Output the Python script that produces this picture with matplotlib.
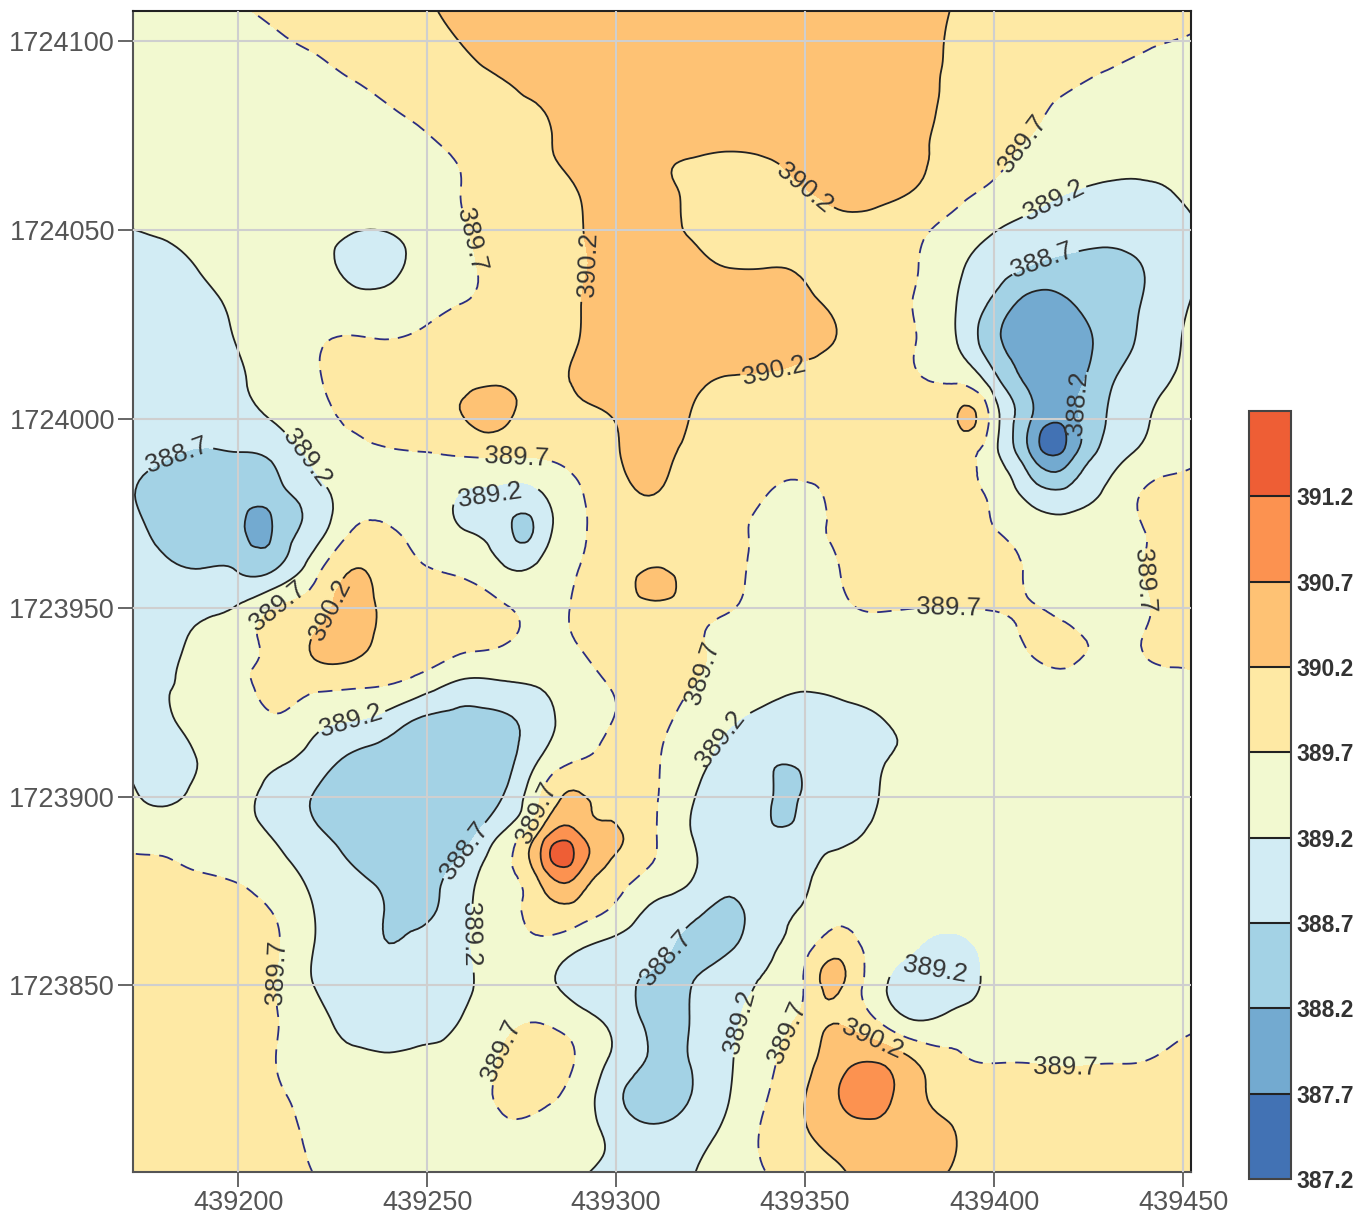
import numpy as np
import matplotlib
matplotlib.use("Agg")
import matplotlib.pyplot as plt
import matplotlib.tri as mtri

plt.rcParams["font.family"] = ["Liberation Sans", "DejaVu Sans"]

# ===============================
# Data
# ===============================
x_nodes = list(range(439170, 439470, 10))
y_nodes = list(range(1724110, 1723790, -10))

# one row per y_nodes entry, one value per x_nodes entry
z_rows = [
    [389.4,389.45,389.55,389.7,389.8,389.9,390.0,390.1,390.18,390.3,390.4,390.45,390.5,390.5,390.5,390.5,390.5,390.5,390.5,390.5,390.45,390.35,390.18,390.1,390.05,390.0,389.95,389.85,389.75,389.7],
    [389.3,389.35,389.4,389.5,389.65,389.75,389.85,389.95,390.1,390.22,390.35,390.4,390.45,390.5,390.5,390.5,390.5,390.5,390.5,390.45,390.4,390.3,390.15,390.05,390.0,389.9,389.85,389.75,389.68,389.6],
    [389.3,389.3,389.35,389.4,389.5,389.6,389.7,389.8,389.95,390.1,390.2,390.3,390.4,390.45,390.5,390.5,390.5,390.5,390.5,390.45,390.4,390.27,390.15,390.0,389.85,389.75,389.65,389.55,389.45,389.4],
    [389.3,389.3,389.3,389.35,389.4,389.5,389.55,389.65,389.78,389.95,390.1,390.18,390.3,390.4,390.5,390.5,390.5,390.5,390.5,390.45,390.4,390.27,390.1,389.9,389.75,389.6,389.5,389.4,389.35,389.3],
    [389.3,389.3,389.28,389.3,389.35,389.4,389.45,389.5,389.62,389.75,389.95,390.15,390.28,390.4,390.3,390.22,390.17,390.22,390.35,390.45,390.4,390.25,390.05,389.8,389.62,389.45,389.35,389.3,389.25,389.2],
    [389.3,389.3,389.28,389.27,389.3,389.32,389.35,389.42,389.55,389.72,389.9,390.05,390.2,390.35,390.3,390.15,390.05,390.1,390.18,390.3,390.28,390.15,389.85,389.6,389.38,389.2,389.13,389.15,389.22,389.3],
    [389.18,389.25,389.27,389.25,389.25,389.27,389.22,389.22,389.4,389.68,389.85,390.0,390.17,390.35,390.3,390.18,390.1,390.05,390.05,390.1,390.05,389.8,389.5,389.22,389.05,388.9,388.85,388.95,389.12,389.25],
    [388.9,389.0,389.22,389.3,389.3,389.28,389.12,389.12,389.35,389.62,389.85,390.0,390.15,390.35,390.38,390.3,390.2,390.2,390.15,390.0,389.9,389.7,389.28,388.95,388.65,388.55,388.55,388.72,389.08,389.3],
    [388.75,388.85,389.05,389.28,389.4,389.45,389.4,389.38,389.55,389.72,389.8,389.95,390.18,390.4,390.45,390.45,390.45,390.4,390.3,390.1,389.9,389.65,389.2,388.55,388.0,388.15,388.45,388.75,389.15,389.4],
    [388.7,388.8,388.95,389.22,389.45,389.65,389.75,389.73,389.82,389.92,390.0,390.1,390.2,390.45,390.5,390.5,390.5,390.5,390.35,390.15,389.95,389.68,389.22,388.35,387.95,387.95,388.4,388.82,389.22,389.5],
    [388.85,388.9,389.0,389.15,389.4,389.65,389.8,389.9,390.0,390.1,390.15,390.1,390.25,390.45,390.45,390.3,390.15,390.1,390.0,389.95,389.85,389.75,389.65,388.9,388.05,387.95,388.6,389.0,389.3,389.5],
    [389.05,389.0,389.0,389.05,389.25,389.55,389.75,389.95,390.05,390.2,390.3,389.95,390.05,390.22,390.4,390.18,390.05,390.0,389.95,389.92,389.9,389.95,390.18,389.45,388.18,387.95,388.72,389.15,389.5,389.65],
    [388.85,388.75,388.6,388.65,388.8,389.3,389.55,389.6,389.65,389.7,389.72,389.72,389.85,390.15,390.35,390.05,389.95,389.9,389.9,389.85,389.85,389.85,389.8,389.35,388.2,388.05,388.95,389.35,389.6,389.7],
    [388.78,388.5,388.4,388.45,388.5,388.95,389.45,389.5,389.5,389.15,389.05,389.15,389.65,390.0,390.2,389.9,389.8,389.7,389.62,389.8,389.85,389.85,389.8,389.6,389.0,388.88,389.3,389.75,389.85,389.9],
    [388.9,388.55,388.35,388.35,388.3,388.95,389.72,389.75,389.55,389.22,388.9,388.9,389.62,389.85,389.95,389.85,389.78,389.6,389.6,389.78,389.9,389.9,389.85,389.72,389.55,389.45,389.5,389.7,389.9,390.0],
    [388.95,388.85,388.72,388.68,388.72,389.5,390.2,389.95,389.72,389.6,389.28,389.35,389.7,389.9,390.25,389.85,389.75,389.55,389.5,389.72,389.85,389.85,389.85,389.85,389.65,389.5,389.5,389.72,389.95,390.0],
    [389.1,389.05,389.1,389.25,389.72,389.95,390.4,390.02,389.95,389.9,389.75,389.6,389.75,389.9,390.05,389.85,389.72,389.5,389.45,389.65,389.72,389.7,389.7,389.72,389.72,389.55,389.45,389.65,389.95,390.0],
    [389.05,389.1,389.3,389.55,389.85,390.25,390.4,389.98,389.9,389.8,389.7,389.55,389.7,389.85,389.9,389.78,389.6,389.45,389.4,389.5,389.55,389.55,389.55,389.55,389.75,389.8,389.62,389.72,389.85,390.0],
    [389.1,389.17,389.32,389.6,389.8,389.85,389.8,389.72,389.45,389.1,389.15,389.25,389.5,389.75,389.85,389.72,389.5,389.35,389.25,389.3,389.4,389.45,389.45,389.45,389.5,389.55,389.5,389.58,389.62,389.75],
    [389.05,389.13,389.3,389.4,389.65,389.35,389.2,388.95,388.6,388.55,388.6,389.0,389.45,389.72,389.78,389.55,389.25,389.05,389.0,389.05,389.18,389.3,389.35,389.35,389.35,389.4,389.45,389.5,389.55,389.6],
    [389.15,389.05,389.22,389.35,389.3,389.0,388.62,388.5,388.45,388.4,388.5,389.22,389.68,389.85,389.75,389.4,389.05,388.82,388.82,388.85,389.15,389.25,389.3,389.3,389.3,389.35,389.4,389.45,389.45,389.5],
    [389.35,389.12,389.3,389.3,389.05,388.68,388.45,388.35,388.3,388.35,388.7,389.7,390.25,390.05,389.75,389.25,388.95,388.8,388.8,388.9,389.22,389.35,389.35,389.35,389.35,389.4,389.45,389.45,389.5,389.5],
    [389.55,389.5,389.45,389.35,389.15,388.8,388.55,388.35,388.3,388.5,389.25,390.35,390.75,390.25,389.75,389.2,388.95,388.82,388.95,389.12,389.3,389.4,389.4,389.4,389.4,389.4,389.4,389.45,389.5,389.5],
    [389.85,389.8,389.7,389.62,389.4,389.05,388.75,388.55,388.55,388.95,389.55,390.45,390.75,390.0,389.6,389.25,388.9,389.0,389.15,389.35,389.45,389.5,389.5,389.5,389.5,389.5,389.5,389.5,389.5,389.5],
    [389.95,389.95,389.95,389.85,389.65,389.2,388.95,388.65,388.6,389.1,389.5,389.95,390.0,389.6,389.1,388.85,388.6,389.0,389.25,389.6,389.55,389.4,389.35,389.45,389.5,389.5,389.5,389.5,389.5,389.5],
    [390.0,390.0,390.0,389.95,389.75,389.2,388.95,388.72,388.95,389.15,389.5,389.55,389.25,389.0,388.8,388.6,388.65,389.1,389.55,389.95,389.45,389.2,389.1,389.35,389.5,389.5,389.5,389.5,389.5,389.5],
    [390.0,390.0,390.05,389.95,389.7,389.2,389.0,388.9,389.0,389.15,389.35,389.35,389.0,388.8,388.62,388.7,389.0,389.25,389.75,390.2,389.3,389.0,389.0,389.35,389.5,389.5,389.55,389.55,389.55,389.55],
    [390.0,390.0,390.05,389.95,389.72,389.4,389.05,388.95,389.05,389.25,389.55,389.7,389.45,389.05,388.6,388.72,389.1,389.45,389.9,390.18,389.7,389.25,389.4,389.45,389.45,389.45,389.5,389.55,389.62,389.7],
    [390.0,390.0,390.05,389.95,389.7,389.4,389.32,389.28,389.32,389.4,389.75,389.9,389.65,389.05,388.65,388.72,389.15,389.6,390.05,390.55,390.65,390.15,389.8,389.68,389.68,389.65,389.68,389.7,389.85,389.95],
    [390.05,390.05,390.1,390.0,389.8,389.5,389.4,389.4,389.4,389.5,389.75,389.75,389.5,388.8,388.55,388.72,389.2,389.7,390.2,390.75,390.85,390.3,390.05,389.95,389.9,389.9,389.9,389.95,390.0,390.05],
    [390.05,390.05,390.1,390.0,389.9,389.6,389.45,389.35,389.35,389.45,389.6,389.6,389.45,389.05,388.82,389.0,389.35,389.8,390.15,390.4,390.5,390.45,390.2,390.0,389.95,389.95,389.95,390.0,390.05,390.05],
    [390.1,390.1,390.05,389.95,389.85,389.7,389.5,389.4,389.35,389.35,389.4,389.4,389.25,389.05,389.0,389.18,389.45,389.7,390.0,390.18,390.3,390.3,390.15,390.0,389.95,389.95,389.95,389.95,390.0,390.0],
]

# small peaks and pits that fall between the grid nodes
peak_x = [439266.7, 439393.1, 439311.1, 439284.7, 439414.8, 439207.1, 439274.6, 439345.5, 439343.9, 439357.1, 439365.9, 439235.4]
peak_y = [1724002.4, 1724000.5, 1723956.0, 1723885.0, 1723993.9, 1723971.1, 1723970.1, 1723903.1, 1723895.1, 1723852.8, 1723821.8, 1724042.9]
peak_z = [390.4, 390.32, 390.42, 391.45, 387.45, 388.05, 388.6, 388.55, 388.6, 390.38, 390.95, 389.05]

levels = [387.2, 387.7, 388.2, 388.7, 389.2, 389.7, 390.2, 390.7, 391.2, 391.7]
band_colors = ["#4272b4", "#73aad0", "#a3d2e5", "#d2ecf4", "#f2f9d0",
               "#fee9a4", "#fec274", "#fc9250", "#ee5e35"]

x_ticks = [439200, 439250, 439300, 439350, 439400, 439450]
y_ticks = [1723850, 1723900, 1723950, 1724000, 1724050, 1724100]

# where the contour labels sit
label_spots = [
    (439261.4, 1724047.4), (439293.9, 1724040.8), (439349.5, 1724060.6),
    (439406.9, 1724073.4), (439416.4, 1724056.7), (439413.0, 1724041.3),
    (439422.8, 1724004.2), (439341.5, 1724013.8), (439273.8, 1723991.3),
    (439184.7, 1723988.6), (439216.9, 1723989.1),
    (439211.1, 1723948.9), (439230.2, 1723946.8), (439387.8, 1723949.4),
    (439440.7, 1723957.4), (439322.2, 1723933.0), (439329.1, 1723914.2),
    (439230.2, 1723918.2), (439261.4, 1723884.5), (439278.6, 1723895.9),
    (439264.6, 1723863.4), (439210.3, 1723853.5), (439313.8, 1723856.7),
    (439272.8, 1723831.6), (439336.0, 1723839.5),
    (439343.9, 1723838.2), (439367.2, 1723834.2), (439418.8, 1723828.1),
]
# two labels wipe out a longer stretch of a small closed contour
small_loop_spot = (439266.7, 1723982.0)
small_loop_text = (439266.7, 1723979.9)
blob_spot = (439385.7, 1723863.9)
blob_text = (439384.4, 1723854.1)

# ===============================
# Smooth surface from the values
# ===============================
gx, gy = np.meshgrid(x_nodes, y_nodes)
px = np.concatenate([gx.ravel(), peak_x])
py = np.concatenate([gy.ravel(), peak_y])
pz = np.concatenate([np.array(z_rows).ravel(), peak_z])

tri = mtri.Triangulation(px, py)
refiner = mtri.UniformTriRefiner(tri)
tri_fine, z_fine = refiner.refine_field(pz, subdiv=3)
z_fine = np.clip(z_fine, levels[0] + 0.01, levels[-1] - 0.01)

# ===============================
# Map
# ===============================
W, H = 1358, 1219
fig = plt.figure(figsize=(W / 100, H / 100), dpi=100)
ax = fig.add_axes([133 / W, 1 - 1172 / H, (1191 - 133) / W, (1172 - 11) / H])

cf = ax.tricontourf(tri_fine, z_fine, levels=levels, colors=band_colors, zorder=1)

styles = [(0, (8, 5)) if lv == 389.7 else "solid" for lv in levels]
line_cols = ["#2b2d80" if lv == 389.7 else "#222222" for lv in levels]
cs = ax.tricontour(tri_fine, z_fine, levels=levels, colors=line_cols,
                   linestyles=styles, linewidths=1.3, zorder=2)
label_kw = dict(fmt="%.1f", fontsize=18.5, inline=True, colors="#333333")
ax.clabel(cs, manual=label_spots, inline_spacing=2, **label_kw)
texts = ax.clabel(cs, manual=[small_loop_spot], inline_spacing=14, **label_kw)
texts[-1].set_position(small_loop_text)
texts = ax.clabel(cs, manual=[blob_spot], inline_spacing=35, **label_kw)
texts[-1].set_position(blob_text)
texts[-1].set_rotation(-10)

ax.set_xlim(439172.2, 439452.1)
ax.set_ylim(1723800.6, 1724108.05)
ax.set_xticks(x_ticks)
ax.set_yticks(y_ticks)
ax.set_xticklabels([str(v) for v in x_ticks])
ax.set_yticklabels([str(v) for v in y_ticks])
ax.tick_params(length=11, width=1.4, color="#666666", labelcolor="#555555",
               labelsize=19.5, pad=2)
ax.grid(True, color="#cfcfcf", linewidth=1.5)
ax.set_axisbelow(False)

for side, col in [("top", "#222222"), ("right", "#222222"),
                  ("left", "#555555"), ("bottom", "#555555")]:
    ax.spines[side].set_color(col)
    ax.spines[side].set_linewidth(1.5)

# ===============================
# Colour key
# ===============================
cax = fig.add_axes([1249 / W, 1 - 1179 / H, (1291 - 1249) / W, (1179 - 411) / H])
cb = fig.colorbar(cf, cax=cax, ticks=levels[:-1], drawedges=True)
cb.ax.set_yticklabels([f"{v:.1f}" for v in levels[:-1]], fontweight="bold")
cb.ax.tick_params(length=0, labelsize=16.5, labelcolor="#333333", pad=4)
cb.outline.set_edgecolor("#444444")
cb.outline.set_linewidth(1.5)
cb.dividers.set_color("#222222")
cb.dividers.set_linewidth(1.5)

fig.savefig("out.png", dpi=100)
